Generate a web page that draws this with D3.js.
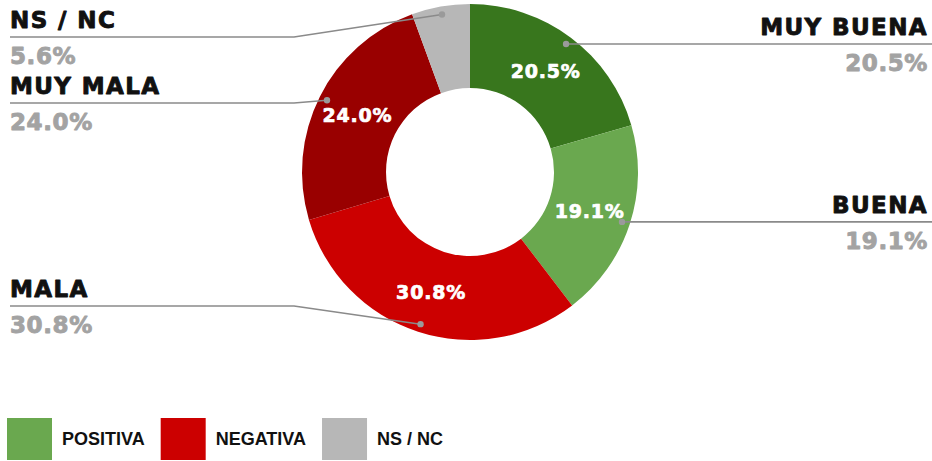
<!DOCTYPE html>
<html>
<head>
<meta charset="utf-8">
<script src="https://cdn.jsdelivr.net/npm/d3@7"></script>
<style>
  body { margin: 0; background: #fff; }
  svg { display: block; }
</style>
</head>
<body>
<svg id="chart" width="932" height="461"></svg>
<script>
// slice data, clockwise from 12 o'clock
const categories = ["MUY BUENA", "BUENA", "MALA", "MUY MALA", "NS / NC"];
const values = [20.5, 19.1, 30.8, 24.0, 5.6];
const sliceColors = ["#38761d", "#6aa84f", "#cc0000", "#990000", "#b7b7b7"];

// legend
const legendLabels = ["POSITIVA", "NEGATIVA", "NS / NC"];
const legendColors = ["#6aa84f", "#cc0000", "#b7b7b7"];

const width = 932, height = 461;
const cx = 470, cy = 172;
const outerR = 168, innerR = 84;

// where the outside labels sit (left side ones use an elbow)
const labelSide = ["right", "right", "left", "left", "left"];
const leftLineY = { "MALA": 306, "MUY MALA": 103, "NS / NC": 37 };
const elbowX = 294;

const svg = d3.select("#chart");
const g = svg.append("g").attr("transform", "translate(" + cx + "," + cy + ")");

const data = categories.map((c, i) => ({ name: c, value: values[i], color: sliceColors[i], side: labelSide[i] }));

const pie = d3.pie().sort(null).value(d => d.value);
const arc = d3.arc().innerRadius(innerR).outerRadius(outerR);
const midArc = d3.arc().innerRadius(126).outerRadius(126);
const dotArc = d3.arc().innerRadius(160).outerRadius(160);

const arcs = pie(data);

g.selectAll("path.slice")
  .data(arcs)
  .enter()
  .append("path")
  .attr("class", "slice")
  .attr("d", arc)
  .attr("fill", d => d.data.color);

// heavy look for the bold labels
function heavy(sel, color, sw) {
  sel.style("font-family", "'DejaVu Sans', sans-serif")
    .style("font-weight", "bold")
    .attr("fill", color)
    .attr("stroke", color)
    .attr("stroke-width", sw)
    .attr("stroke-linejoin", "round");
}

// percentages inside the ring
g.selectAll("text.inner")
  .data(arcs.filter(d => d.data.value > 10))
  .enter()
  .append("text")
  .attr("class", "inner")
  .attr("transform", d => "translate(" + midArc.centroid(d) + ")")
  .attr("text-anchor", "middle")
  .attr("dy", "0.36em")
  .style("font-size", "19px")
  .style("letter-spacing", "0.8px")
  .call(heavy, "#fff", 0.7)
  .text(d => d.data.value.toFixed(1) + "%");

const fmt = v => v.toFixed(1) + "%";

// leader lines + outside labels
arcs.forEach(d => {
  const p = dotArc.centroid(d);
  const px = p[0] + cx, py = p[1] + cy;
  let lineY, pts, tx, anchor;
  if (d.data.side === "right") {
    lineY = py;
    pts = [[px, py], [width, py]];
    tx = width - 4;
    anchor = "end";
  } else {
    lineY = leftLineY[d.data.name];
    pts = [[px, py], [elbowX, lineY], [10, lineY]];
    tx = 10;
    anchor = "start";
  }

  svg.append("path")
    .attr("d", d3.line()(pts))
    .attr("fill", "none")
    .attr("stroke", "#8a8a8a")
    .attr("stroke-width", 1.6);

  svg.append("circle")
    .attr("cx", px)
    .attr("cy", py)
    .attr("r", 3.2)
    .attr("fill", "#9a9a9a");

  svg.append("text")
    .attr("x", tx)
    .attr("y", lineY - 9)
    .attr("text-anchor", anchor)
    .style("font-size", "23px")
    .style("letter-spacing", "1.4px")
    .call(heavy, "#111", 0.9)
    .text(d.data.name);

  svg.append("text")
    .attr("x", tx)
    .attr("y", lineY + 27)
    .attr("text-anchor", anchor)
    .style("font-size", "23px")
    .style("letter-spacing", "0.6px")
    .call(heavy, "#a3a3a3", 0.9)
    .text(fmt(d.data.value));
});

// legend: square, then label, laid out left to right
const leg = svg.selectAll("g.legend")
  .data(legendLabels)
  .enter()
  .append("g")
  .attr("class", "legend");

leg.append("rect")
  .attr("width", 45)
  .attr("height", 42)
  .attr("fill", (d, i) => legendColors[i]);

leg.append("text")
  .attr("x", 55)
  .attr("y", 27)
  .style("font-family", "'Liberation Sans', Arial, sans-serif")
  .style("font-weight", "bold")
  .style("font-size", "18px")
  .attr("fill", "#111")
  .text(d => d);

let lx = 7;
leg.each(function () {
  d3.select(this).attr("transform", "translate(" + lx + ",418)");
  lx += 55 + d3.select(this).select("text").node().getComputedTextLength() + 16;
});
</script>
</body>
</html>
